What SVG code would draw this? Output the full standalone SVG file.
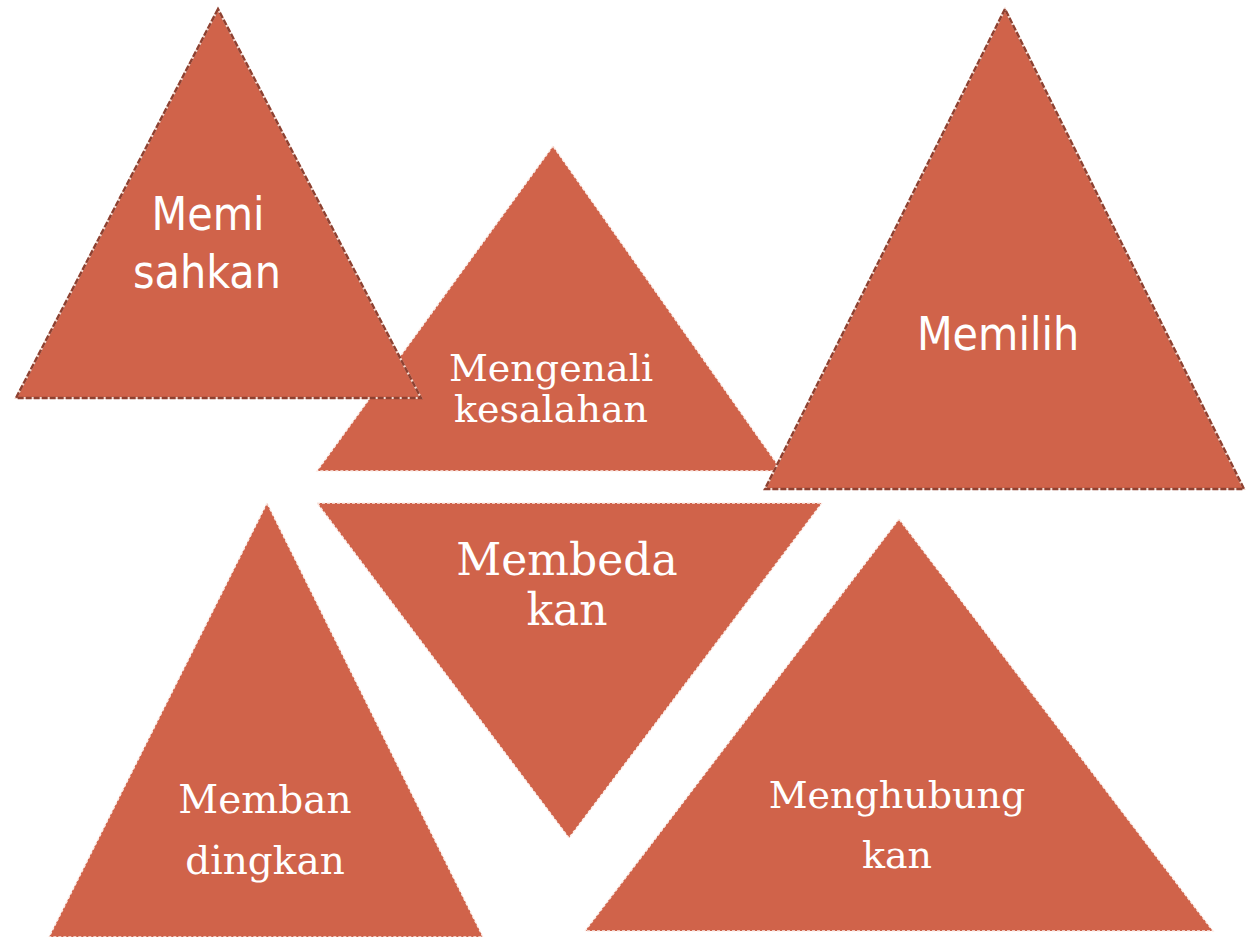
<svg xmlns="http://www.w3.org/2000/svg" width="1247" height="937" viewBox="0 0 1247 937">
<style>
.fill{fill:#D0634A;}
.edge-light{fill:none;stroke:#FBEDE8;stroke-width:1.5;stroke-dasharray:3 2;}
.edge-under{fill:none;stroke:#F3D9D0;stroke-width:2.2;}
.edge-dark{fill:none;stroke:#8E4131;stroke-width:2.4;stroke-dasharray:6 2;}
.sans{font-family:"DejaVu Sans Condensed","DejaVu Sans",sans-serif;font-stretch:condensed;fill:#FFFFFF;text-anchor:middle;}
.serif{font-family:"DejaVu Serif","Liberation Serif",serif;fill:#FFFFFF;text-anchor:middle;}
</style>
<rect width="1247" height="937" fill="#FFFFFF"/>
<g id="connectors"/>
<g id="node-mengenali">
<polygon class="fill" points="553,146 317,471 782,471"/>
<polygon class="edge-light" points="553,146 317,471 782,471"/>
<text class="serif" font-size="38" x="551" y="381">Mengenali</text>
<text class="serif" font-size="38" x="551" y="422">kesalahan</text>
</g>
<g id="node-memisahkan">
<polygon class="fill" points="218,9 16,398 421,398"/>
<polygon class="edge-under" points="218,9 16,398 421,398"/>
<polygon class="edge-dark" points="218,9 16,398 421,398"/>
<text class="sans" font-size="46" x="208" y="230">Memi</text>
<text class="sans" font-size="46" x="207" y="288">sahkan</text>
</g>
<g id="node-memilih">
<polygon class="fill" points="1005,9 765,489 1244,489"/>
<polygon class="edge-under" points="1005,9 765,489 1244,489"/>
<polygon class="edge-dark" points="1005,9 765,489 1244,489"/>
<text class="sans" font-size="46" x="998" y="350">Memilih</text>
</g>
<g id="node-membedakan">
<polygon class="fill" points="317,503 822,503 569,838"/>
<polygon class="edge-light" points="317,503 822,503 569,838"/>
<text class="serif" font-size="44" x="567" y="575">Membeda</text>
<text class="serif" font-size="44" x="567" y="625">kan</text>
</g>
<g id="node-membandingkan">
<polygon class="fill" points="267,503 49,937 483,937"/>
<polygon class="edge-light" points="267,503 49,937 483,937"/>
<text class="serif" font-size="39" x="265" y="813">Memban</text>
<text class="serif" font-size="39" x="265" y="874">dingkan</text>
</g>
<g id="node-menghubungkan">
<polygon class="fill" points="899,519 585,931 1213,931"/>
<polygon class="edge-light" points="899,519 585,931 1213,931"/>
<text class="serif" font-size="38" x="897" y="808">Menghubung</text>
<text class="serif" font-size="38" x="897" y="868">kan</text>
</g>
</svg>
